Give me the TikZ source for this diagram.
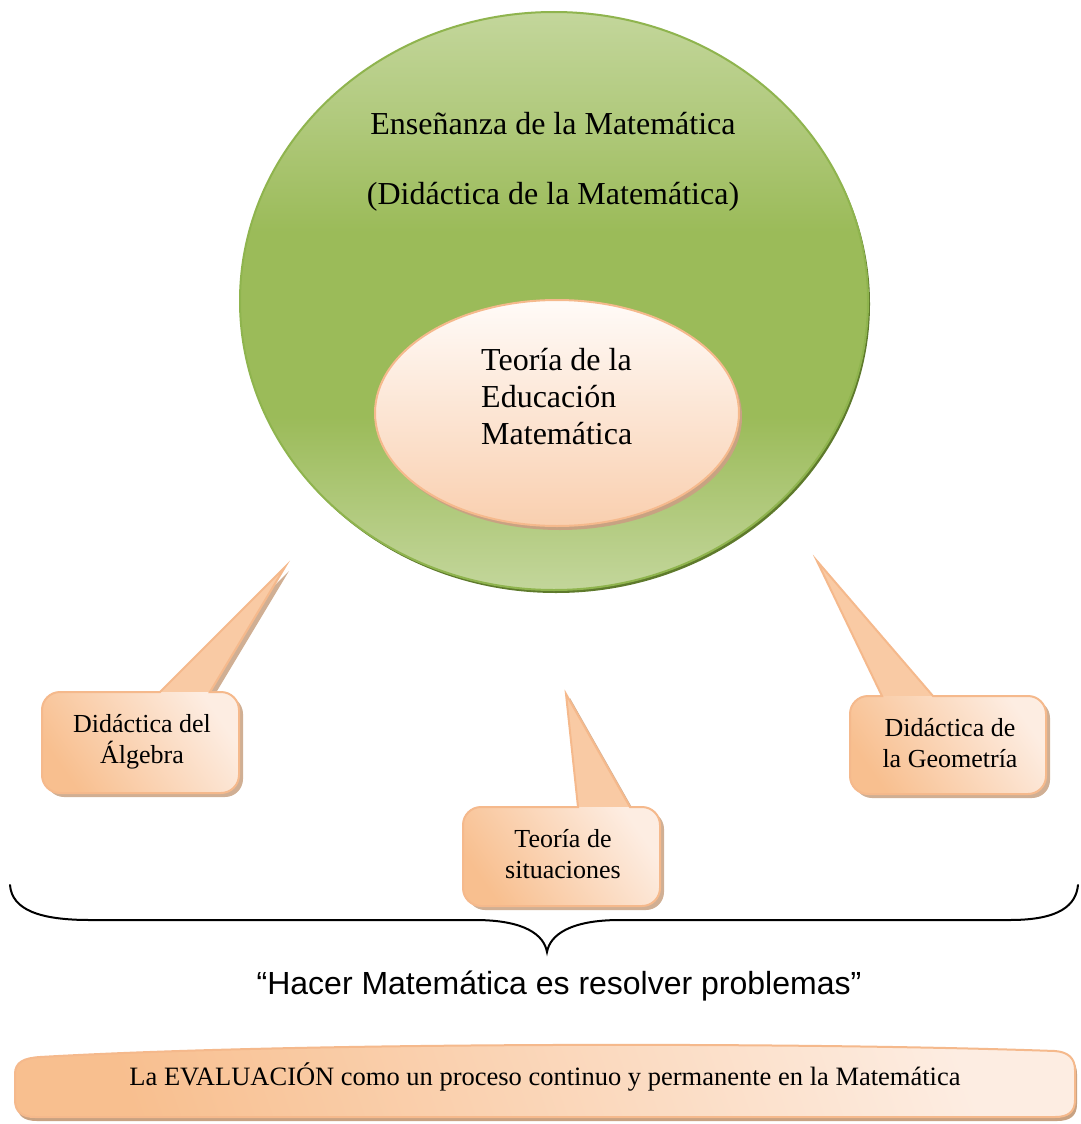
\documentclass[tikz,border=0pt]{standalone}
\usepackage{fontspec}
\setmainfont{Liberation Serif}
\newfontfamily\quotefont{Liberation Sans}
\usetikzlibrary{shapes.geometric}
\definecolor{greenLight}{HTML}{C3D69B}
\definecolor{greenMid}{HTML}{9BBB59}
\definecolor{greenLine}{HTML}{8FB44E}
\definecolor{greenShadow}{HTML}{5E7A2C}
\definecolor{peachTop}{HTML}{FFFBF8}
\definecolor{peachBottom}{HTML}{F9CFAF}
\definecolor{peachLine}{HTML}{F5B98C}
\definecolor{peachShadow}{HTML}{C8A282}
\definecolor{bubDark}{HTML}{F8BF8F}
\definecolor{bubMid}{HTML}{F9CAA4}
\definecolor{bubLight}{HTML}{FDEDE2}
\pgfdeclareverticalshading{greenshade}{100bp}{color(0bp)=(greenLight); color(25bp)=(greenLight); color(31bp)=(greenLight!60!greenMid); color(40bp)=(greenMid); color(56bp)=(greenMid); color(66bp)=(greenMid!45!greenLight); color(75bp)=(greenLight); color(100bp)=(greenLight)}
\newcommand{\bubble}[9]{%
  \path[#1] (#7,#3) -- ({#4-18},#3) arc[start angle=270,end angle=360,radius=18]
    -- (#4,{#5-18}) arc[start angle=0,end angle=90,radius=18]
    -- ({#2+18},#5) arc[start angle=90,end angle=180,radius=18]
    -- (#2,{#3+18}) arc[start angle=180,end angle=270,radius=18]
    -- (#6,#3) -- (#8,#9) -- cycle;}
\newcommand{\bubblebox}[4]{%
  \shade[left color=bubDark, right color=bubLight, shading angle=125, rounded corners=18] (#1,#2) rectangle (#3,#4);}
\newcommand{\banner}[1]{%
  \path[#1] (15,1100) -- (15,1074) .. controls (15,1062) and (24,1058) .. (40,1057)
    .. controls (300,1042) and (800,1042) .. (1055,1051)
    .. controls (1068,1052) and (1075,1058) .. (1075,1070)
    -- (1075,1100) .. controls (1075,1112) and (1068,1117) .. (1055,1117)
    -- (35,1117) .. controls (22,1117) and (15,1112) .. (15,1100) -- cycle;}
\begin{document}
\begin{tikzpicture}[x=1pt,y=-1pt,
  bigtext/.style={font=\fontsize{32}{37}\selectfont, inner sep=0pt},
  bubtext/.style={font=\fontsize{26}{31}\selectfont, align=center, inner sep=0pt},
  bubfill/.style={fill=bubMid},
  bubline/.style={draw=peachLine, line width=2pt},
  bubshadow/.style={fill=peachShadow, opacity=0.85}]
\useasboundingbox (0,0) rectangle (1080,1124);
\fill[white] (0,0) rectangle (1080,1124);

% big green circle
\fill[greenShadow] (556,304) ellipse[x radius=314, y radius=289];
\node[ellipse, draw=greenLine, line width=2pt, shading=greenshade,
  minimum width=628pt, minimum height=578pt, inner sep=0pt] (big) at (554,301) {};
\node[bigtext] (t1) at (553,124) {Enseñanza de la Matemática};
\node[bigtext] (t2) at (553,197) {(Didáctica de la Matemática)};

% inner ellipse
\fill[peachShadow] (560,417) ellipse[x radius=182, y radius=113];
\node[ellipse, draw=peachLine, line width=2pt, top color=peachTop, bottom color=peachBottom,
  minimum width=364pt, minimum height=226pt, inner sep=0pt] (inner) at (557,413) {};
\node[bigtext, align=left, anchor=west] (t3) at (481,397) {Teoría de la\\Educación\\Matemática};

% callouts
\bubble{bubshadow, shift={(4,4)}}{42}{692}{239}{793}{160}{210}{285}{567}
\bubble{bubfill}{42}{692}{239}{793}{160}{210}{285}{567}
\bubblebox{42}{692}{239}{793}
\bubble{bubline}{42}{692}{239}{793}{160}{210}{285}{567}
\node[bubtext] (alg) at (142,742) {Didáctica del\\Álgebra};

\bubble{bubshadow, shift={(4,4)}}{463}{807}{660}{906}{578}{630}{566}{694}
\bubble{bubfill}{463}{807}{660}{906}{578}{630}{566}{694}
\bubblebox{463}{807}{660}{906}
\bubble{bubline}{463}{807}{660}{906}{578}{630}{566}{694}
\node[bubtext] (sit) at (563,854) {Teoría de\\situaciones};

\bubble{bubshadow, shift={(4,4)}}{850}{696}{1046}{794}{882}{933}{817}{561}
\bubble{bubfill}{850}{696}{1046}{794}{882}{933}{817}{561}
\bubblebox{850}{696}{1046}{794}
\bubble{bubline}{850}{696}{1046}{794}{882}{933}{817}{561}
\node[bubtext] (geo) at (950,743) {Didáctica de\\la Geometría};

% brace
\draw[line width=2pt, line cap=round]
  (10,885) .. controls (12,910) and (40,920) .. (90,920) -- (475,920)
  .. controls (525,920) and (544,935) .. (547,952)
  .. controls (550,935) and (570,920) .. (620,920) -- (1010,920)
  .. controls (1060,920) and (1076,905) .. (1078,885);

\node[inner sep=0pt, font=\quotefont\fontsize{32}{37}\selectfont] (quote) at (559,986) {“Hacer Matemática es resolver problemas”};

% banner
\banner{fill=peachShadow, shift={(2,4)}}
\banner{draw=peachLine, line width=2pt, left color=bubDark, right color=bubLight, shading angle=110}
\node[inner sep=0pt, font=\fontsize{26.5}{31}\selectfont] (eval) at (545,1077) {La EVALUACIÓN como un proceso continuo y permanente en la Matemática};
\end{tikzpicture}
\end{document}
